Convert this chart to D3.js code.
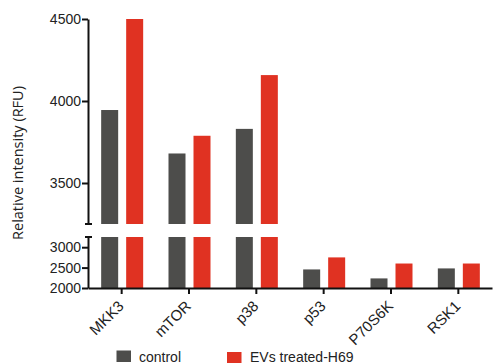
<!DOCTYPE html>
<html>
<head>
<meta charset="utf-8">
<script src="https://cdn.jsdelivr.net/npm/d3@7"></script>
<style>
  html, body { margin: 0; padding: 0; background: #fff; }
  svg { display: block; }
</style>
</head>
<body>
<svg id="chart" width="493" height="363"></svg>
<script>
// Kinase targets and measured fluorescence (RFU)
const categories = ["MKK3", "mTOR", "p38", "p53", "P70S6K", "RSK1"];
const seriesNames = ["control", "EVs treated-H69"];
const controlValues = [3945, 3680, 3830, 2455, 2235, 2480];
const treatedValues = [4500, 3788, 4158, 2750, 2600, 2600];
const upperTicks = [3500, 4000, 4500];
const lowerTicks = [2000, 2500, 3000];
const breakValue = 3250;

const colors = ["#4d4d4b", "#e03222"];
const font = '"Liberation Sans", Arial, Helvetica, sans-serif';

const svg = d3.select("#chart");

// Broken y axis: two linear segments sharing the same x band scale
const x = d3.scaleBand().domain(categories).range([88, 492]).padding(0);
const yUpper = d3.scaleLinear().domain([breakValue, 4500]).range([224, 19]);
const yLower = d3.scaleLinear().domain([2000, breakValue]).range([288, 237]);

const barW = 17;
const offsets = [-20.5, 4.5];
const series = [controlValues, treatedValues];

const g = svg.append("g");

series.forEach((vals, si) => {
  const rows = vals.map((v, i) => ({ cat: categories[i], v }));
  // lower segment (capped at the break)
  g.selectAll(null).data(rows).enter().append("rect")
    .attr("x", d => x(d.cat) + x.bandwidth() / 2 + offsets[si])
    .attr("width", barW)
    .attr("y", d => yLower(Math.min(d.v, breakValue)))
    .attr("height", d => yLower(2000) - yLower(Math.min(d.v, breakValue)))
    .attr("fill", colors[si]);
  // upper segment (only values above the break)
  g.selectAll(null).data(rows.filter(d => d.v > breakValue)).enter().append("rect")
    .attr("x", d => x(d.cat) + x.bandwidth() / 2 + offsets[si])
    .attr("width", barW)
    .attr("y", d => yUpper(d.v))
    .attr("height", d => yUpper(breakValue) - yUpper(d.v))
    .attr("fill", colors[si]);
});

function styleAxis(sel, size) {
  sel.selectAll("path.domain").attr("stroke", "#111").attr("stroke-width", 2);
  sel.selectAll(".tick line").attr("stroke", "#111").attr("stroke-width", 2);
  sel.selectAll(".tick text").attr("fill", "#222").style("font-size", size + "px").style("font-family", font);
}

// Upper y axis
const ayU = svg.append("g").attr("transform", "translate(88,0)")
  .call(d3.axisLeft(yUpper).tickValues(upperTicks).tickSize(6).tickSizeOuter(0).tickFormat(d3.format("d")))
  .call(styleAxis, 14);
ayU.selectAll(".tick text").attr("x", -7);

// Lower y axis
const ayL = svg.append("g").attr("transform", "translate(88,0)")
  .call(d3.axisLeft(yLower).tickValues(lowerTicks).tickSize(6).tickSizeOuter(0).tickFormat(d3.format("d")))
  .call(styleAxis, 14);
ayL.selectAll(".tick text").attr("x", -7);

// Break caps
[yUpper(breakValue), yLower(breakValue)].forEach(yy => {
  svg.append("line").attr("x1", 85).attr("x2", 92).attr("y1", yy).attr("y2", yy)
    .attr("stroke", "#111").attr("stroke-width", 2);
});

// X axis
const ax = svg.append("g").attr("transform", "translate(0,288)")
  .call(d3.axisBottom(x).tickSize(6).tickSizeOuter(0))
  .call(styleAxis, 15);
ax.selectAll(".tick text")
  .attr("text-anchor", "end")
  .attr("dy", "0")
  .attr("x", 0).attr("y", 0)
  .attr("transform", "translate(3,19) rotate(-45)");

// Y axis title
svg.append("text")
  .attr("transform", "translate(23,163) rotate(-90)")
  .attr("text-anchor", "middle")
  .style("font-family", '"Open Sans", "Noto Sans", sans-serif')
  .style("font-size", "14.5px")
  .attr("fill", "#222")
  .text("Relative intensity (RFU)");

// Legend
const legendPos = [{ x: 116.5, y: 350.5, tx: 139 }, { x: 227, y: 352, tx: 250 }];
seriesNames.forEach((name, i) => {
  const p = legendPos[i];
  svg.append("rect").attr("x", p.x).attr("y", p.y).attr("width", 14.5).attr("height", 11.5).attr("fill", colors[i]);
  svg.append("text").attr("x", p.tx).attr("y", 361.5)
    .style("font-family", font).style("font-size", "14px").attr("fill", "#222").text(name);
});
</script>
</body>
</html>
